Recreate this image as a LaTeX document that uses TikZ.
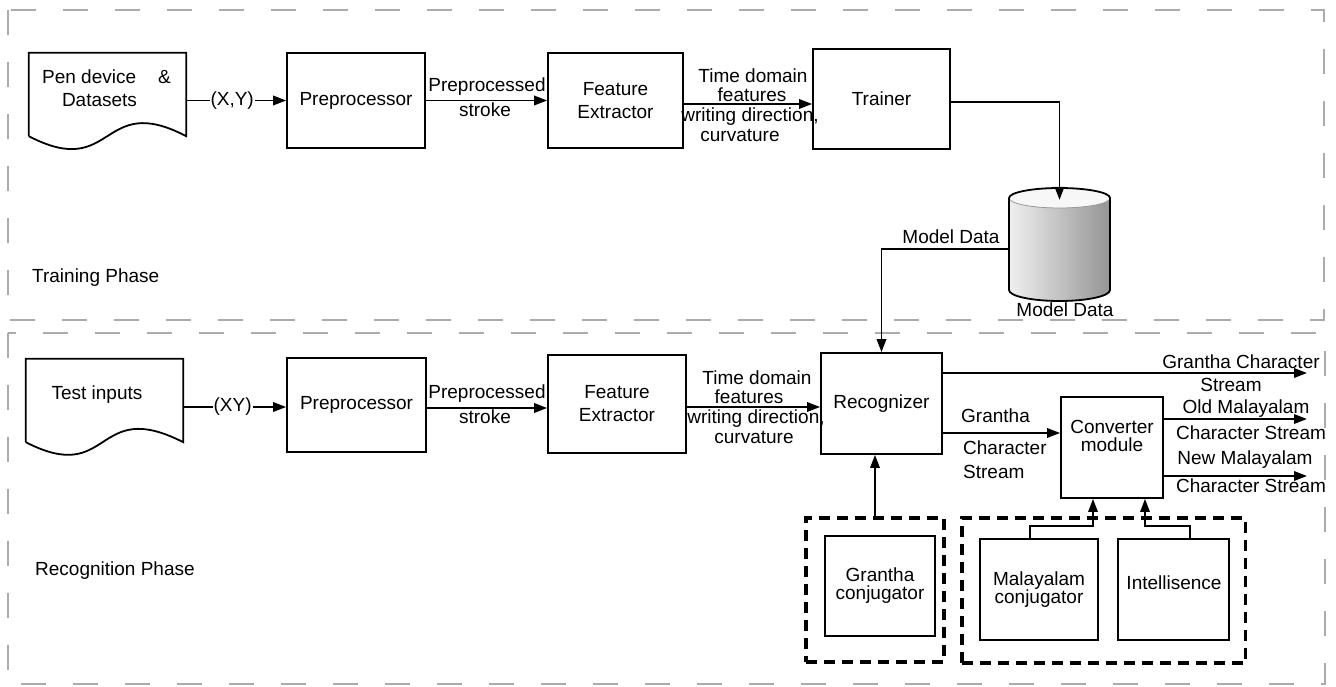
\documentclass[tikz,border=0pt]{standalone}
\usepackage{fontspec}
\setmainfont{Liberation Sans}
\usetikzlibrary{arrows.meta}
\begin{document}
\begin{tikzpicture}[x=1pt,y=-1pt,
  font=\fontsize{19}{23}\selectfont,
  box/.style={draw, line width=1.8pt, inner sep=0pt, align=center},
  arr/.style={line width=1.8pt, -{Triangle[length=13pt,width=9.5pt]}},
  frame/.style={draw=black!33, line width=2pt, dash pattern=on 25pt off 27pt},
  group/.style={draw, line width=3.2pt, dash pattern=on 11pt off 7pt, inner sep=0pt},
  txt/.style={inner sep=0pt},
  lab/.style={fill=white, inner sep=1pt},
  tight/.style={align=center, font=\fontsize{19}{18}\selectfont},
]
\useasboundingbox (0,0) rectangle (1336,687);

% phase frames
\draw[frame] (8,10) rectangle (1324,320);
\draw[frame] (8,333) rectangle (1325,684);
\node[txt, anchor=west] (tp) at (32,278) {Training Phase};
\node[txt, anchor=west] (rp) at (35,571) {Recognition Phase};

% ---------------- training row ----------------
\node[minimum width=157pt, minimum height=83pt, inner sep=0pt] (pen) at (107.5,94.5) {};
\draw[line width=1.8pt] (pen.south west) -- (pen.north west) -- (pen.north east) -- (pen.south east)
  .. controls (100,91) and (115,181) .. (pen.south west);
\node[txt] (pent1) at (106.5,77) {Pen device\hspace{22pt}\&};
\node[txt] (pent2) at (99.5,100) {Datasets};

\node[box, minimum width=138pt, minimum height=95pt] (pre1) at (356,100.5) {Preprocessor};
\node[box, minimum width=135pt, minimum height=95pt] (fe1) at (615.5,100.5) {Feature\\Extractor};
\node[box, minimum width=137pt, minimum height=100pt] (trainer) at (881.5,99) {Trainer};

\draw[arr] (pen.east |- pre1.west) -- node[lab, pos=0.46] {(X,Y)} (pre1.west);
\draw[arr] (pre1.east) -- (fe1.west);
\node[txt] (pp1) at (487,87) {Preprocessed};
\node[txt] (st1) at (485,110) {stroke};
\draw[arr] (fe1.east |- 0,104) -- (trainer.west |- 0,104);
\node[txt] (td1) at (753,75.5) {Time domain};
\node[txt] (ft1) at (752,94.5) {features};
\node[txt] (wd1) at (750,117) {writing direction,};
\node[txt] (cv1) at (740,135) {curvature};

% database cylinder
\node[minimum width=101pt, minimum height=113pt, inner sep=0pt] (db) at (1059.5,244.5) {};
\fill[left color=black!6, right color=black!42]
  (1009,198) -- (1009,290) arc[start angle=180, end angle=360, x radius=50.5pt, y radius=11pt]
  -- (1110,198) arc[start angle=0, end angle=180, x radius=50.5pt, y radius=10pt] -- cycle;
\fill[black!3] (1059.5,198) ellipse [x radius=50.5pt, y radius=10pt];
\draw[black!40, line width=0.8pt] (1009,198) arc[start angle=180, end angle=360, x radius=50.5pt, y radius=10pt];
\draw[line width=1.8pt]
  (1009,198) -- (1009,290) arc[start angle=180, end angle=360, x radius=50.5pt, y radius=11pt]
  -- (1110,198) arc[start angle=0, end angle=180, x radius=50.5pt, y radius=10pt] -- cycle;
\node[txt] (dbl) at (1065,310) {Model Data};

\draw[arr] (trainer.east |- 0,102) -| ([yshift=-12pt]db.north);

% ---------------- recognition row ----------------
\node[minimum width=157pt, minimum height=83pt, inner sep=0pt] (test) at (104.5,400.5) {};
\draw[line width=1.8pt] (test.south west) -- (test.north west) -- (test.north east) -- (test.south east)
  .. controls (94,396.5) and (112,486.5) .. (test.south west);
\node[txt] (testt) at (97,395) {Test inputs};

\node[box, minimum width=139pt, minimum height=94pt] (pre2) at (356.5,405) {Preprocessor};
\node[box, minimum width=138pt, minimum height=98pt] (fe2) at (617,404) {Feature\\Extractor};
\node[box, minimum width=121pt, minimum height=101pt] (rec) at (881.5,403.5) {Recognizer};

\draw[arr] (test.east |- 0,407) -- node[lab, pos=0.48] {(XY)} (pre2.west |- 0,407);
\draw[arr] (pre2.east |- 0,408) -- (fe2.west |- 0,408);
\node[txt] (pp2) at (487,394) {Preprocessed};
\node[txt] (st2) at (485,417) {stroke};
\draw[arr] (fe2.east |- 0,407) -- (rec.west |- 0,407);
\node[txt] (td2) at (757,377.5) {Time domain};
\node[txt] (ft2) at (749,396.5) {features};
\node[txt] (wd2) at (756,419) {writing direction,};
\node[txt] (cv2) at (754,437) {curvature};

\draw[arr] (db.west |- 0,249) -| (rec.north);
\node[txt] (mdl) at (951,237) {Model Data};

% converter
\node[box, minimum width=102pt, minimum height=101pt] (conv) at (1112,447.5) {};
\node[txt, tight] (convt) at (1112,436) {Converter\\module};

\coordinate (o1) at (1307,373);
\coordinate (o2) at (1307,419);
\coordinate (o3) at (1307,476);
\draw[arr] (rec.east |- o1) -- (o1);
\node[txt] (gc1) at (1241,362) {Grantha Character};
\node[txt] (gc2) at (1231,385) {Stream};
\draw[arr] (rec.east |- 0,433) -- (conv.west |- 0,433);
\node[txt, anchor=west] (gs1) at (961,416) {Grantha};
\node[txt, anchor=west] (gs2) at (963,448) {Character};
\node[txt, anchor=west] (gs3) at (963,472) {Stream};
\draw[arr] (conv.east |- o2) -- (o2);
\node[txt] (om1) at (1246,409) {Old Malayalam};
\node[txt] (om2) at (1251,433) {Character Stream};
\draw[arr] (conv.east |- o3) -- (o3);
\node[txt] (nm1) at (1245,460) {New Malayalam};
\node[txt] (nm2) at (1251,486) {Character Stream};

% bottom groups
\node[group, minimum width=138pt, minimum height=144pt] (g1) at (875,590) {};
\node[group, minimum width=283.5pt, minimum height=145pt] (g2) at (1103.75,590.5) {};
\node[box, tight, minimum width=110.5pt, minimum height=100pt] (gcj) at (880,586) {Grantha\\conjugator};
\node[box, tight, minimum width=118.5pt, minimum height=101pt] (mcj) at (1039,589.5) {Malayalam\\conjugator};
\node[box, minimum width=111pt, minimum height=101pt] (intel) at (1173.5,589.5) {};
\node[txt] (intelt) at (1174,583) {Intellisence};

\draw[arr] (g1.north) -- (g1.north |- rec.south);
\draw[arr, line width=1.6pt] ([xshift=-9pt]mcj.north) -- ++(0,-12) -| ([xshift=-19pt]conv.south);
\draw[arr, line width=1.6pt] ([xshift=16.5pt]intel.north) -- ++(0,-12) -| ([xshift=33pt]conv.south);
\end{tikzpicture}
\end{document}
